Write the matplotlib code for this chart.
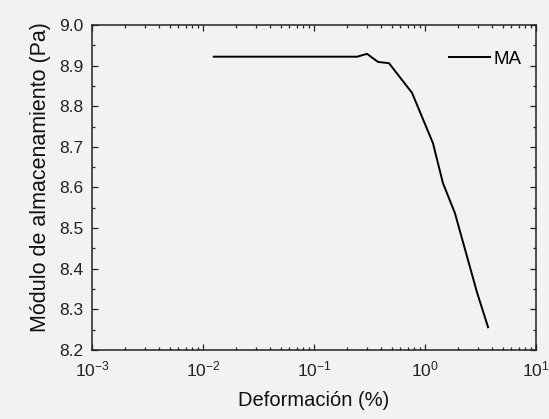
import numpy as np
import matplotlib
matplotlib.use("Agg")
import matplotlib.pyplot as plt
from matplotlib.ticker import MultipleLocator, LogLocator, NullFormatter

plt.rcParams['font.family'] = ['Liberation Sans', 'DejaVu Sans']
plt.rcParams['mathtext.fontset'] = 'custom'
plt.rcParams['mathtext.rm'] = 'Liberation Sans'
plt.rcParams['mathtext.it'] = 'Liberation Sans:italic'

# strain sweep: storage modulus vs deformation
deformacion = [0.0125, 0.02, 0.03, 0.05, 0.08, 0.12, 0.19, 0.245,
               0.30, 0.378, 0.474, 0.764, 1.18, 1.45, 1.86, 2.94, 3.7]
modulo = [8.922, 8.922, 8.922, 8.922, 8.922, 8.922, 8.922, 8.922,
          8.929, 8.909, 8.906, 8.833, 8.709, 8.611, 8.537, 8.342, 8.256]

bg = '#f2f2f2'
fig = plt.figure(figsize=(5.49, 4.19), dpi=100, facecolor=bg)
ax = fig.add_axes([92 / 549, 1 - 350 / 419, 444 / 549, 325 / 419])
ax.set_facecolor(bg)

ax.plot(deformacion, modulo, color='black', lw=1.4, label='MA')

ax.set_xscale('log')
ax.set_xlim(1e-3, 10)
ax.set_ylim(8.2, 9.0)
ax.yaxis.set_major_locator(MultipleLocator(0.1))
ax.yaxis.set_minor_locator(MultipleLocator(0.05))
ax.xaxis.set_major_locator(LogLocator(base=10, numticks=10))
ax.xaxis.set_minor_locator(LogLocator(base=10, subs=np.arange(2, 10), numticks=20))
ax.xaxis.set_minor_formatter(NullFormatter())
ax.yaxis.set_major_formatter(plt.FormatStrFormatter('%.1f'))

ax.tick_params(which='both', direction='in', top=True, right=True,
               labelsize=12.5, width=0.9, colors='#222222')
ax.tick_params(axis='y', which='major', pad=6)
ax.tick_params(axis='x', which='major', pad=7)
ax.tick_params(which='major', length=4)
ax.tick_params(which='minor', length=2.3)
for s in ax.spines.values():
    s.set_linewidth(1.1)
    s.set_color('#222222')

ax.set_xlabel('Deformación (%)', fontsize=14.5, color='#111111')
ax.set_ylabel('Módulo de almacenamiento (Pa)', fontsize=15.5, color='#111111')
ax.xaxis.set_label_coords(0.5, -0.125)
ax.yaxis.set_label_coords(-0.093, 0.532)

ax.legend(loc='center left', frameon=False, fontsize=13.5, handlelength=2.2,
          handletextpad=0.2, borderpad=0, borderaxespad=0,
          bbox_to_anchor=(0.804, 0.895))

fig.savefig('out.png', dpi=100, facecolor=bg)
